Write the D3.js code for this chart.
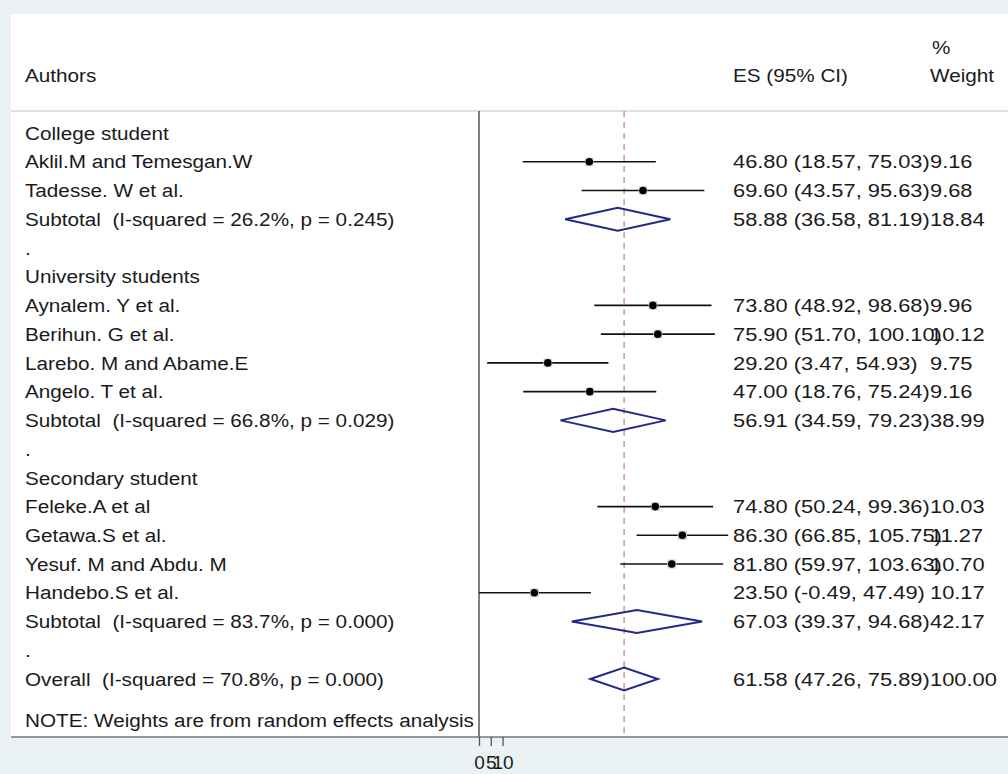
<!DOCTYPE html>
<html>
<head>
<meta charset="utf-8">
<script src="https://cdn.jsdelivr.net/npm/d3@7"></script>
<style>
  body { margin: 0; background: #eaf2f3; }
  svg { display: block; font-family: "Liberation Sans", Arial, sans-serif; }
  text { white-space: pre; }
</style>
</head>
<body>
<svg id="chart" width="1008" height="774"></svg>
<script>
// rows of the forest plot, top to bottom
const labels = [
  "College student", "Aklil.M and Temesgan.W", "Tadesse. W et al.",
  "Subtotal  (I-squared = 26.2%, p = 0.245)", ".",
  "University students", "Aynalem. Y et al.", "Berihun. G et al.",
  "Larebo. M and Abame.E", "Angelo. T et al.",
  "Subtotal  (I-squared = 66.8%, p = 0.029)", ".",
  "Secondary student", "Feleke.A et al", "Getawa.S et al.",
  "Yesuf. M and Abdu. M", "Handebo.S et al.",
  "Subtotal  (I-squared = 83.7%, p = 0.000)", ".",
  "Overall  (I-squared = 70.8%, p = 0.000)"
];
const kinds = [
  "group", "study", "study", "pooled", "blank",
  "group", "study", "study", "study", "study", "pooled", "blank",
  "group", "study", "study", "study", "study", "pooled", "blank",
  "pooled"
];
const es = [null, 46.80, 69.60, 58.88, null, null, 73.80, 75.90, 29.20, 47.00, 56.91, null,
  null, 74.80, 86.30, 81.80, 23.50, 67.03, null, 61.58];
const lo = [null, 18.57, 43.57, 36.58, null, null, 48.92, 51.70, 3.47, 18.76, 34.59, null,
  null, 50.24, 66.85, 59.97, -0.49, 39.37, null, 47.26];
const hi = [null, 75.03, 95.63, 81.19, null, null, 98.68, 100.10, 54.93, 75.24, 79.23, null,
  null, 99.36, 105.75, 103.63, 47.49, 94.68, null, 75.89];
const wt = [null, 9.16, 9.68, 18.84, null, null, 9.96, 10.12, 9.75, 9.16, 38.99, null,
  null, 10.03, 11.27, 10.70, 10.17, 42.17, null, 100.00];
const overallES = 61.58;
const xTicks = [0, 5, 10];
const note = "NOTE: Weights are from random effects analysis";

const svg = d3.select("#chart");
const W = 1008;
const plotTop = 111, plotBottom = 737, plotLeft = 11;
const textX = 25, esX = 733, wtX = 930;
const fs = 19, sxText = 1.09, sxNum = 1.15;

const x = d3.scaleLinear().domain([0, 110]).range([479, 738.2]).clamp(true);
const y = d3.scaleLinear().domain([0, labels.length - 1]).range([133, 679]);
const f2 = v => v.toFixed(2);

// text placed with a slight horizontal stretch, like the exported figure
function put(g, tx, ty, str, sx) {
  return g.append("text")
    .attr("transform", `translate(${tx},${ty}) scale(${sx},1)`)
    .attr("dy", "0.35em")
    .text(str);
}

// white panel
svg.append("rect")
  .attr("x", plotLeft).attr("y", 14)
  .attr("width", W - plotLeft).attr("height", plotBottom - 14)
  .attr("fill", "#fff");

const txt = svg.append("g").attr("font-size", fs).attr("fill", "#1a1a1a");

// header
put(txt, textX, 75, "Authors", sxText);
put(txt, esX, 75, "ES (95% CI)", sxText);
put(txt, wtX + 2, 47, "%", sxText);
put(txt, wtX, 75, "Weight", sxText);

svg.append("line")
  .attr("x1", plotLeft).attr("x2", W)
  .attr("y1", plotTop).attr("y2", plotTop)
  .attr("stroke", "#d4d4d4").attr("stroke-width", 1.5);

// reference lines
svg.append("line")
  .attr("x1", x(0)).attr("x2", x(0))
  .attr("y1", plotTop).attr("y2", plotBottom)
  .attr("stroke", "#555").attr("stroke-width", 1.5);

svg.append("line")
  .attr("x1", x(overallES)).attr("x2", x(overallES))
  .attr("y1", plotTop).attr("y2", plotBottom)
  .attr("stroke", "#c98592").attr("stroke-width", 1.3)
  .attr("stroke-dasharray", "6,5");

const rows = labels.map((label, i) => ({
  label, kind: kinds[i], es: es[i], lo: lo[i], hi: hi[i], wt: wt[i], i
}));

// row labels and numeric columns
rows.forEach(d => {
  put(txt, textX, y(d.i), d.label, sxText);
  if (d.es !== null) {
    put(txt, esX, y(d.i), `${f2(d.es)} (${f2(d.lo)}, ${f2(d.hi)})`, sxNum);
    put(txt, wtX, y(d.i), f2(d.wt), sxNum);
  }
});
put(txt, textX, 720, note, sxText);

const withES = rows.filter(d => d.es !== null);

// studies: CI line, weight box, point
const studies = withES.filter(d => d.kind === "study");
svg.append("g").selectAll("line").data(studies).join("line")
  .attr("x1", d => x(d.lo)).attr("x2", d => x(d.hi))
  .attr("y1", d => y(d.i)).attr("y2", d => y(d.i))
  .attr("stroke", "#111").attr("stroke-width", 1.6);

svg.append("g").selectAll("rect").data(studies).join("rect")
  .attr("x", d => x(d.es) - 1.4 * Math.sqrt(d.wt))
  .attr("y", d => y(d.i) - 1.4 * Math.sqrt(d.wt))
  .attr("width", d => 2.8 * Math.sqrt(d.wt))
  .attr("height", d => 2.8 * Math.sqrt(d.wt))
  .attr("fill", "#d6d6d6");

svg.append("g").selectAll("circle").data(studies).join("circle")
  .attr("cx", d => x(d.es)).attr("cy", d => y(d.i)).attr("r", 3.8)
  .attr("fill", "#000");

// pooled estimates: diamonds
const pooled = withES.filter(d => d.kind === "pooled");
svg.append("g").selectAll("path").data(pooled).join("path")
  .attr("d", d => {
    const cy = y(d.i), h = 11.5;
    return `M${x(d.lo)},${cy}L${x(d.es)},${cy - h}L${x(d.hi)},${cy}L${x(d.es)},${cy + h}Z`;
  })
  .attr("fill", "none").attr("stroke", "#222a86").attr("stroke-width", 2);

// x axis
svg.append("line")
  .attr("x1", plotLeft).attr("x2", W)
  .attr("y1", plotBottom).attr("y2", plotBottom)
  .attr("stroke", "#777").attr("stroke-width", 1.5);

const axis = svg.append("g")
  .attr("transform", `translate(0,${plotBottom})`)
  .call(d3.axisBottom(x).tickValues(xTicks).tickSize(9).tickPadding(10).tickFormat(d3.format("d")));
axis.select(".domain").remove();
axis.selectAll(".tick line").attr("stroke", "#555").attr("stroke-width", 1.3);
axis.selectAll(".tick text")
  .attr("font-size", fs).attr("fill", "#1a1a1a")
  .attr("font-family", "Liberation Sans, Arial, sans-serif");
</script>
</body>
</html>
